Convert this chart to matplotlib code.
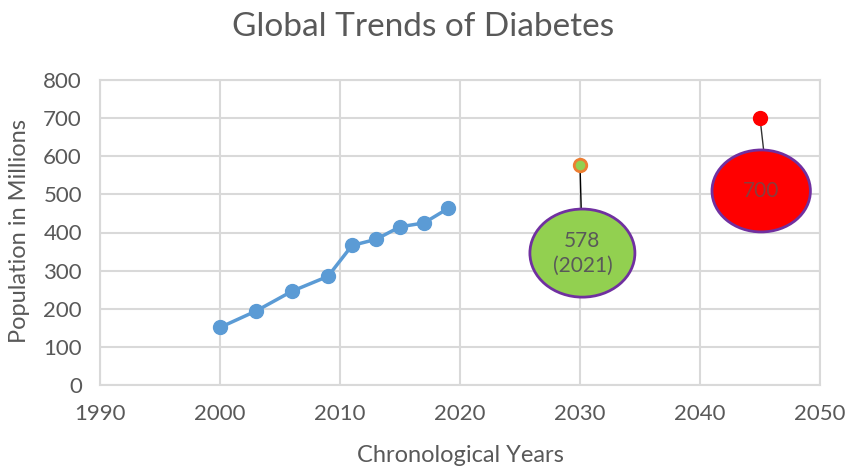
import matplotlib
matplotlib.use("Agg")
import matplotlib.pyplot as plt
from matplotlib.patches import Ellipse

plt.rcParams['font.family'] = ['Lato', 'DejaVu Sans']

years = [2000, 2003, 2006, 2009, 2011, 2013, 2015, 2017, 2019]
population = [151, 194, 246, 285, 366, 382, 415, 425, 463]
proj_2030_year, proj_2030_value, proj_2030_label = 2030, 578, "578\n(2021)"
proj_2045_year, proj_2045_value, proj_2045_label = 2045, 700, "700"

gray = '#595959'
grid = '#d9d9d9'

fig = plt.figure(figsize=(8.46, 4.68), dpi=100)
ax = fig.add_axes([100/846, 1-385/468, 720/846, 305/468])

ax.set_xlim(1990, 2050)
ax.set_ylim(0, 800)
ax.set_xticks(range(1990, 2051, 10))
ax.set_yticks(range(0, 801, 100))
ax.grid(True, color=grid, linewidth=1.5)
ax.set_axisbelow(True)
for s in ax.spines.values():
    s.set_color(grid)
    s.set_linewidth(1.5)
ax.tick_params(length=0, labelsize=16, colors=gray)
ax.tick_params(axis='x', pad=14)
ax.tick_params(axis='y', pad=13)

ax.plot(years, population, color='#5b9bd5', linewidth=2.5, marker='o',
        markersize=10, zorder=3)

# 2030 projection
ax.plot([proj_2030_year, 2030.1], [proj_2030_value, 462], color='black', linewidth=1, zorder=2)
ax.plot([proj_2030_year], [proj_2030_value], marker='o', markersize=9,
        markerfacecolor='#92d050', markeredgecolor='#ed7d31', markeredgewidth=2, zorder=4)
ax.add_patch(Ellipse((2030.2, 346), 8.75, 231, facecolor='#92d050',
                     edgecolor='#7030a0', linewidth=2, zorder=3))
ax.text(2030.2, 346, proj_2030_label, ha='center', va='center', fontsize=15,
        color=gray, zorder=5, linespacing=1.3)

# 2045 projection
ax.plot([proj_2045_year, 2045.3], [proj_2045_value, 617], color='#333333', linewidth=1, zorder=2)
ax.plot([proj_2045_year], [proj_2045_value], marker='o', markersize=10,
        markerfacecolor='red', markeredgecolor='red', zorder=4)
ax.add_patch(Ellipse((2045.1, 509), 8.2, 215, facecolor='red',
                     edgecolor='#7030a0', linewidth=2, zorder=3))
ax.text(2045.1, 509, proj_2045_label, ha='center', va='center', fontsize=15,
        color='#8a3c3c', zorder=5)

ax.set_xlabel('Chronological Years', fontsize=17, color=gray, va='center')
ax.xaxis.set_label_coords(0.5, -(455-385)/305)
ax.set_ylabel('Population in Millions', fontsize=17, color=gray, va='center')
ax.yaxis.set_label_coords(-(100-20)/720, (385-231)/305)
fig.text(0.5, 1-27/468, 'Global Trends of Diabetes', ha='center', va='center',
         fontsize=24, color=gray)

fig.savefig('out.png', dpi=100)
